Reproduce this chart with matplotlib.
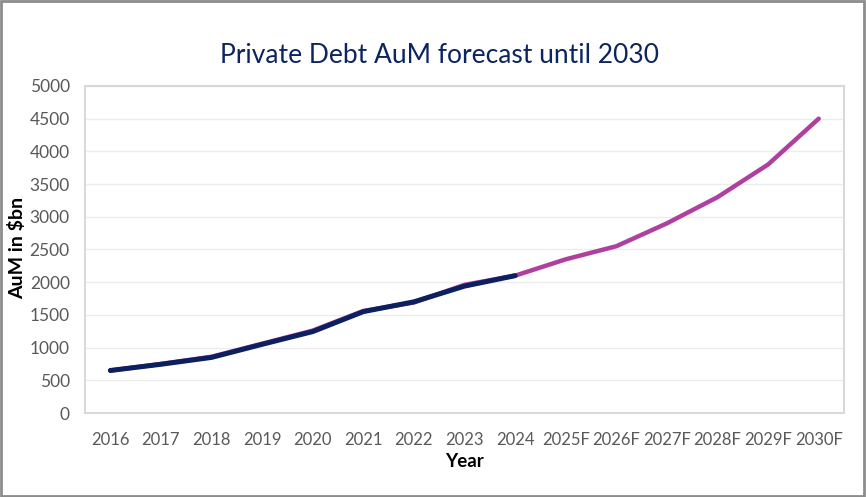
import matplotlib
matplotlib.use("Agg")
import matplotlib.pyplot as plt
from matplotlib.patches import Rectangle

years = ["2016", "2017", "2018", "2019", "2020", "2021", "2022", "2023", "2024",
         "2025F", "2026F", "2027F", "2028F", "2029F", "2030F"]
forecast = [650, 750, 860, 1060, 1260, 1560, 1690, 1960, 2100,
            2350, 2550, 2900, 3300, 3800, 4500]
historic = [650, 745, 850, 1050, 1245, 1550, 1700, 1940, 2100]

plt.rcParams['font.family'] = ['Lato', 'DejaVu Sans']

fig = plt.figure(figsize=(8.66, 4.97), dpi=100)
ax = fig.add_axes([0.0982, 0.169, 0.8764, 0.658])

x_all = list(range(len(years)))
ax.plot(x_all, forecast, color='#b040a0', lw=3.2, solid_capstyle='round', zorder=3)
ax.plot(x_all[:len(historic)], historic, color='#0c1f5e', lw=3.6, solid_capstyle='round', zorder=4)

ax.set_xlim(-0.5, len(years) - 0.5)
ax.set_ylim(0, 5000)
ax.set_yticks(range(0, 5001, 500))
ax.set_xticks(x_all)
ax.set_xticklabels(years)
ax.grid(axis='y', color='#ececec', lw=1)
ax.set_axisbelow(True)
for s in ax.spines.values():
    s.set_color('#d9d9d9')
    s.set_linewidth(1.5)
ax.tick_params(axis='both', length=0, colors='#595959')
ax.tick_params(axis='y', pad=11, labelsize=12.5)
ax.tick_params(axis='x', pad=14, labelsize=12)

ax.set_xlabel('Year', fontsize=13.5, fontweight='bold', color='black', labelpad=3)
fig.text(0.020, 0.502, 'AuM in $bn', rotation=90, fontsize=14, fontweight='bold',
         color='black', ha='center', va='center')
fig.text(0.508, 0.889, 'Private Debt AuM forecast until 2030', fontsize=19,
         color='#0c2460', ha='center', va='center')

fig.patches.append(Rectangle((0.001, 0.002), 0.997, 0.995, transform=fig.transFigure,
                             fill=False, edgecolor='#8c8c8c', lw=2))

fig.savefig('out.png', dpi=100)
